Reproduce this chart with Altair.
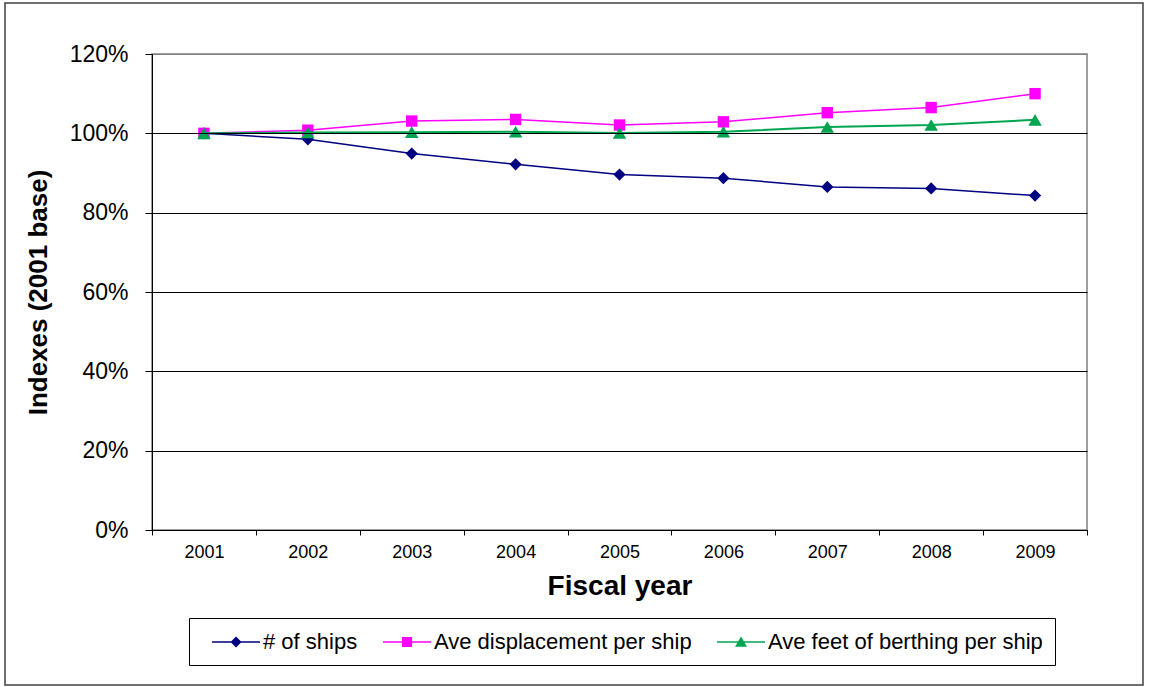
import altair as alt
import pandas as pd

# ---- data ----
years = ["2001", "2002", "2003", "2004", "2005", "2006", "2007", "2008", "2009"]
series = ["# of ships", "Ave displacement per ship", "Ave feet of berthing per ship"]
ships = [100.0, 98.5, 94.9, 92.2, 89.6, 88.7, 86.5, 86.1, 84.3]
displacement = [100.0, 100.8, 103.1, 103.5, 102.1, 102.9, 105.2, 106.5, 110.0]
berthing = [100.0, 100.2, 100.3, 100.4, 100.1, 100.4, 101.6, 102.1, 103.4]
y_ticks = [0, 20, 40, 60, 80, 100, 120]

# ---- styles ----
colors = ["#000080", "#FF00FF", "#00A550"]
shapes = ["diamond", "square", "triangle-up"]
point_sizes = [150, 130, 180]
line_widths = [1.5, 1.5, 2.0]
FONT = "Liberation Sans"

# legend symbols: line + marker as one custom path (units of 12 px)
line_part = "M-0.08,-0.065 L3.92,-0.065 L3.92,0.065 L-0.08,0.065 Z "
legend_paths = [
    line_part + "M1.92,-0.46 L2.38,0 L1.92,0.46 L1.46,0 Z",
    line_part + "M1.5,-0.42 L2.34,-0.42 L2.34,0.42 L1.5,0.42 Z",
    line_part + "M1.92,-0.46 L2.42,0.40 L1.42,0.40 Z",
]

rows = []
for name, vals in zip(series, [ships, displacement, berthing]):
    for yr, v in zip(years, vals):
        rows.append({"year": yr, "series": name, "value": v})
df = pd.DataFrame(rows)

x_enc = alt.X(
    "year:O",
    scale=alt.Scale(type="band", paddingInner=0, paddingOuter=0),
    axis=alt.Axis(
        title="Fiscal year", labelAngle=0, tickBand="extent", tickSize=5,
        tickColor="black", domainColor="black", labelFontSize=18,
        labelColor="black", labelPadding=8, labelFont=FONT,
        titleFont=FONT, titleFontSize=28, titleFontWeight="bold",
        titleColor="black", titleY=42, grid=False, zindex=1,
    ),
)
y_enc = alt.Y(
    "value:Q",
    scale=alt.Scale(domain=[0, 120], nice=False),
    axis=alt.Axis(
        values=y_ticks, labelExpr="datum.value + '%'", labelFontSize=23,
        labelColor="black", labelPadding=17, tickSize=7, tickColor="black",
        domainColor="black", labelFont=FONT,
        gridColor={"condition": {"test": "datum.value >= 120", "value": "#808080"}, "value": "black"},
        title="Indexes (2001 base)", titleFont=FONT, titleFontSize=26,
        titleFontWeight="bold", titleColor="black", titleX=-101, titleY=238,
        zindex=1,
    ),
)
color_scale = alt.Scale(domain=series, range=colors)

legend_props = dict(
    title=None, orient="none", legendX=37, legendY=564,
    direction="horizontal", symbolSize=576, labelOffset=38,
    columnPadding=14, padding=12, strokeColor="black",
    fillColor="white", labelFontSize=22, labelFont=FONT,
    labelColor="black", symbolStrokeWidth=0, labelLimit=400,
    symbolOpacity=1,
)

# invisible layer that only carries the legend (colour + line/marker symbol)
legend_layer = alt.Chart(df).mark_point(filled=True, opacity=0).encode(
    x=x_enc, y=y_enc,
    color=alt.Color("series:N", scale=color_scale, legend=alt.Legend(**legend_props)),
    shape=alt.Shape("series:N", scale=alt.Scale(domain=series, range=legend_paths),
                    legend=alt.Legend(**legend_props)),
)

series_layers = []
for name, col, shp, sz, lw in zip(series, colors, shapes, point_sizes, line_widths):
    base = alt.Chart(df).transform_filter(alt.datum.series == name)
    series_layers.append(
        base.mark_line(color=col, strokeWidth=lw).encode(x=x_enc, y=y_enc)
    )
    series_layers.append(
        base.mark_point(filled=True, opacity=1, shape=shp, size=sz, color=col)
        .encode(x=x_enc, y=y_enc)
    )

frame = alt.Chart(pd.DataFrame({"f": [0]})).mark_rect(
    fill=None, stroke="#404040", strokeWidth=1.5
).encode(
    x=alt.value(-147), x2=alt.value(991), y=alt.value(-51), y2=alt.value(631)
)

chart = alt.layer(frame, legend_layer, *series_layers).properties(
    width=935, height=476,
    autosize=alt.AutoSizeParams(type="none"),
    padding={"left": 152, "top": 54, "right": 62, "bottom": 157},
    background="white",
).configure_view(stroke="#808080", strokeWidth=1.5)

chart.save("out.html", embed_options={"renderer": "svg", "actions": False})
